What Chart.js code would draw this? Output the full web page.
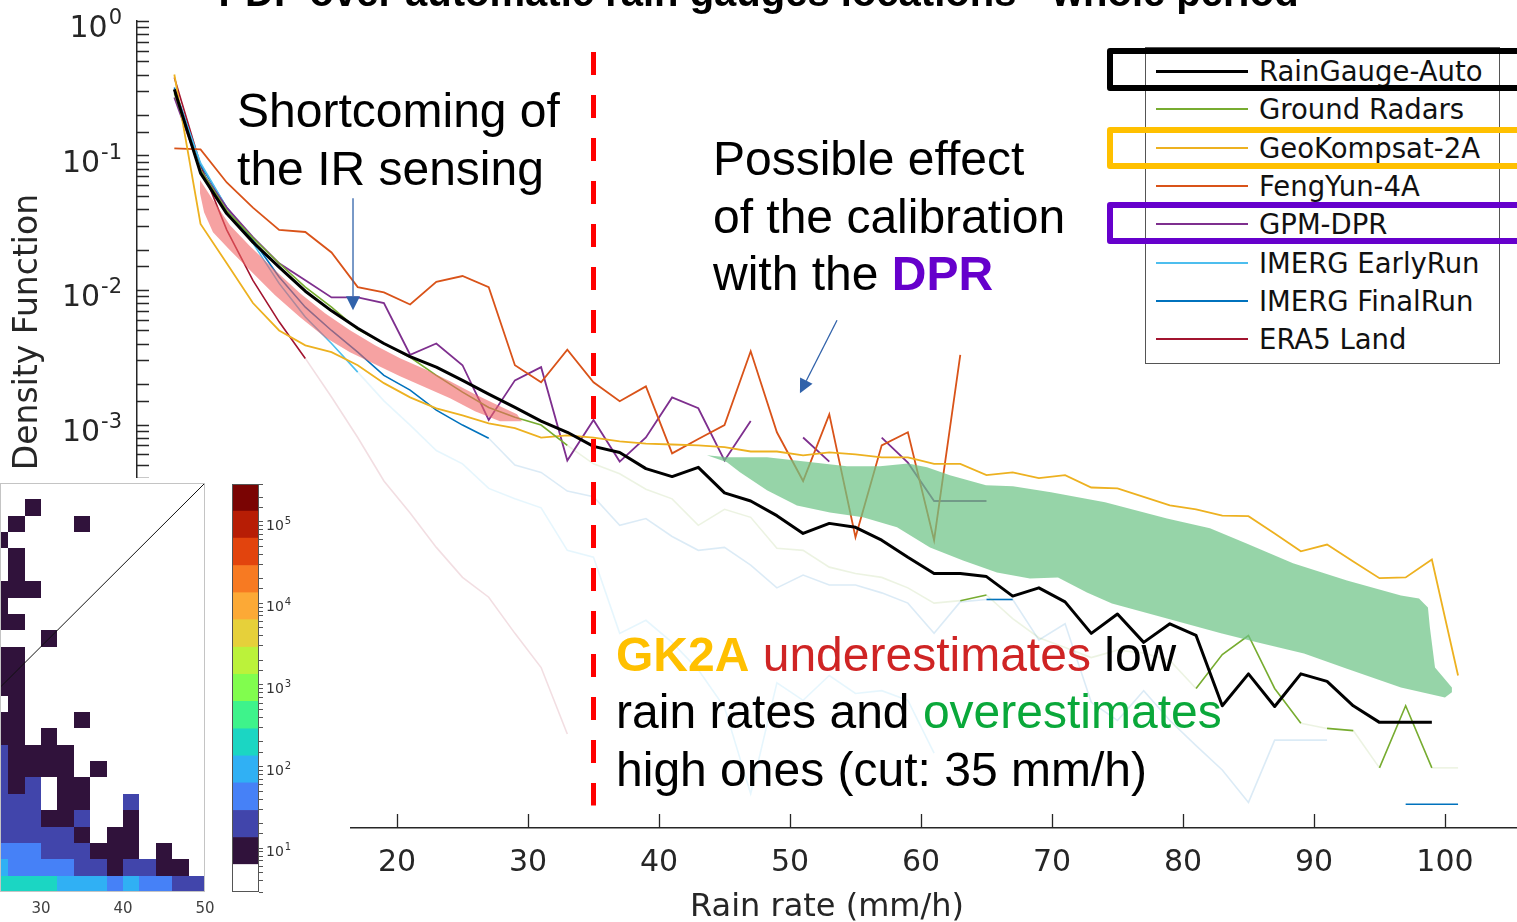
<!DOCTYPE html>
<html lang="en">
<head>
<meta charset="utf-8">
<title>PDF over automatic rain gauges locations - whole period</title>
<script src="https://cdn.jsdelivr.net/npm/chart.js@4.4.1/dist/chart.umd.min.js"></script>
<style>
  html, body { margin: 0; padding: 0; background: #fff; }
  body { position: relative; width: 1517px; height: 922px; overflow: hidden; }
  #pdfChart { position: absolute; left: 0; top: -29px; }
  #legend {
    position: absolute; left: 1145px; top: 47px; width: 355px; height: 317px;
    box-sizing: border-box; margin: 0; padding: 4px 0 0 0; list-style: none;
    background: #fff; border: 1.5px solid #555;
    font: 27.5px "DejaVu Sans", sans-serif; color: #111;
  }
  #legend li { display: flex; align-items: center; height: 38.33px; white-space: nowrap; }
  #legend .swatch { display: inline-block; width: 92px; margin: 0 11px 0 10px; }
  .frame { position: absolute; left: 1107px; width: 480px; box-sizing: border-box; border: 6px solid; border-radius: 3px; }
  #inset { position: absolute; left: 0; top: 478px; width: 350px; height: 444px; background: #fff; overflow: hidden; }
  #heatChart { position: absolute; left: 0; top: 0; }
  #cbarChart { position: absolute; left: 225px; top: -6px; }
</style>
</head>
<body>
<canvas id="pdfChart" width="1517" height="956"></canvas>
<ul id="legend"></ul>
<div class="frame" style="top:48px;height:43px;border-color:#000"></div>
<div class="frame" style="top:127px;height:42px;border-color:#ffc000"></div>
<div class="frame" style="top:202px;height:42px;border-color:#6600cc"></div>
<div id="inset">
  <canvas id="heatChart" width="240" height="444"></canvas>
  <canvas id="cbarChart" width="125" height="450"></canvas>
</div>
<script>
Chart.defaults.font.family = '"DejaVu Sans", sans-serif';
Chart.defaults.color = '#262626';

// rain-rate bin centres (mm/h)
const rainRate = [3, 5, 7, 9, 11, 13, 15, 17, 19, 21, 23, 25, 27, 29, 31, 33, 35, 37, 39, 41,
  43, 45, 47, 49, 51, 53, 55, 57, 59, 61, 63, 65, 67, 69, 71, 73, 75, 77, 79, 81,
  83, 85, 87, 89, 91, 93, 95, 97, 99, 101];

// probability density per product, one value per bin
const gaugeAuto = [0.31, 0.074, 0.037, 0.0227, 0.0148, 0.0098, 0.0070, 0.0052, 0.0040, 0.0032,
  0.00267, 0.00213, 0.00168, 0.00134, 0.00106, 0.000875, 0.000688, 0.00062, 0.00047, 0.00041,
  0.00048, 0.00031, 0.00027, 0.00021, 0.000155, 0.000184, 0.000172, 0.000138, 0.000103, 7.8e-5,
  7.8e-5, 7.4e-5, 5.3e-5, 6.1e-5, 4.8e-5, 2.8e-5, 3.9e-5, 2.4e-5, 3.3e-5, 2.7e-5,
  8.1e-6, 1.4e-5, 8.0e-6, 1.4e-5, 1.23e-5, 8.1e-6, 6.1e-6, 6.1e-6, 6.1e-6];
const groundRadars = [0.29, 0.078, 0.039, 0.0243, 0.0158, 0.0105, 0.00745, 0.0051, 0.0040, 0.00316,
  0.00232, 0.00174, 0.00134, 0.00113, 0.00099, 0.0007, 0.00051, 0.00043, 0.00033, 0.00028,
  0.000178, 0.000234, 0.000204, 0.00012, 0.000116, 8.7e-5, 7.8e-5, 7.3e-5, 6.1e-5, 4.7e-5,
  4.9e-5, 5.4e-5, 3.6e-5, 2.6e-5, 2.2e-5, 1.85e-5, 2.1e-5, 2.0e-5, 1.76e-5, 1.09e-5,
  1.95e-5, 2.7e-5, 1.09e-5, 6.0e-6, 5.5e-6, 5.3e-6, 2.8e-6, 8.1e-6, 2.8e-6, 2.8e-6];
const geoKompsat = [0.40, 0.031, 0.0158, 0.0080, 0.0050, 0.00388, 0.00345, 0.00276, 0.00203, 0.00159,
  0.00132, 0.00117, 0.00102, 0.00094, 0.00080, 0.00083, 0.00080, 0.00075, 0.00072, 0.00071,
  0.00070, 0.00068, 0.00063, 0.00063, 0.00059, 0.00062, 0.00060, 0.00057, 0.00057, 0.00051,
  0.00051, 0.00042, 0.00044, 0.00040, 0.00042, 0.00034, 0.000335, 0.00029, 0.00025, 0.000234,
  0.00021, 0.000208, 0.000155, 0.000114, 0.000128, 9.6e-5, 7.2e-5, 7.3e-5, 9.9e-5, 1.36e-5];
const fengYun = [0.113, 0.111, 0.063, 0.041, 0.028, 0.027, 0.019, 0.0105, 0.0096, 0.0078,
  0.0115, 0.0127, 0.0105, 0.00276, 0.00206, 0.0036, 0.00206, 0.00149, 0.00192, 0.00061,
  0.00078, 0.00099, 0.0035, 0.000875, 0.00038, 0.00119, 0.000145, 0.0007, 0.000875, 0.000138,
  0.0033];
const gpmDpr = [0.27, 0.078, 0.041, 0.0247, 0.0158, 0.0118, 0.0088, 0.0088, 0.0080, 0.0033,
  0.0040, 0.00276, 0.00108, 0.00213, 0.00267, 0.00054, 0.00108, 0.00053, 0.0008, 0.00159,
  0.00132, 0.00054, 0.00106, null, 0.0008, 0.00053, null, 0.0008, 0.00052, 0.00027,
  0.00027, 0.00027];
const imergEarly = [0.31, 0.088, 0.041, 0.0223, 0.0112, 0.0063, 0.0040, 0.00245, 0.0015, 0.00099,
  0.00064, 0.00051, 0.000335, 0.00028, 0.00024, 0.000116, 0.000103, 2.8e-5, 3.5e-5, 2.4e-5,
  1.5e-5, 7.9e-6, 1.8e-6, 1.2e-5, 8.9e-6, 1.36e-5, 1.0e-5, 1.05e-5, 8.9e-6, 3.6e-6];
const imergFinal = [0.32, 0.085, 0.041, 0.0235, 0.0125, 0.00745, 0.0050, 0.00345, 0.00232, 0.0018,
  0.00128, 0.00099, 0.00079, 0.0005, 0.00044, 0.00032, 0.00029, 0.000178, 0.0002, 0.000147,
  0.000116, 0.000122, 9.0e-5, 6.1e-5, 7.6e-5, 6.4e-5, 6.4e-5, 5.6e-5, 4.7e-5, 2.8e-5,
  4.8e-5, 5.0e-5, 5.0e-5, 2.5e-5, 3.3e-5, 8.6e-6, 6.3e-6, 1.05e-5, 6.3e-6, 4.1e-6,
  2.7e-6, 1.55e-6, 4.5e-6, 4.5e-6, 4.5e-6, null, null, 1.5e-6, 1.5e-6, 1.5e-6];
const era5Land = [0.38, 0.085, 0.028, 0.0118, 0.0058, 0.0031, 0.0016, 0.0008, 0.00038, 0.00022,
  0.000122, 7.3e-5, 5.2e-5, 2.8e-5, 1.56e-5, 5.0e-6];

const cutRate = 35; // mm/h threshold

// 2x2 mm/h bins of the scatter density: [x0, y0, count]
const heatBin = 2;
const heatCells = [
  [28, 46, 10],
  [26, 44, 10], [34, 44, 10],
  [24, 42, 10],
  [26, 40, 10],
  [26, 38, 10],
  [24, 36, 10], [26, 36, 10], [28, 36, 10],
  [24, 34, 10],
  [24, 32, 10], [26, 32, 10],
  [30, 30, 10],
  [24, 28, 10], [26, 28, 10],
  [24, 26, 10], [26, 26, 10],
  [24, 24, 10], [26, 24, 10],
  [26, 22, 10],
  [24, 20, 10], [26, 20, 10], [34, 20, 10],
  [24, 18, 10], [26, 18, 10], [30, 18, 10],
  [24, 16, 20], [26, 16, 10], [28, 16, 10], [30, 16, 10], [32, 16, 10],
  [24, 14, 20], [26, 14, 10], [28, 14, 10], [30, 14, 10], [32, 14, 10], [36, 14, 10],
  [24, 12, 20], [26, 12, 10], [28, 12, 20], [32, 12, 10], [34, 12, 10],
  [24, 10, 20], [26, 10, 20], [28, 10, 20], [32, 10, 10], [34, 10, 10], [40, 10, 20],
  [24, 8, 20], [26, 8, 20], [28, 8, 20], [30, 8, 10], [32, 8, 10], [34, 8, 20], [40, 8, 10],
  [24, 6, 20], [26, 6, 20], [28, 6, 20], [30, 6, 20], [32, 6, 20], [34, 6, 10], [38, 6, 10], [40, 6, 10],
  [24, 4, 45], [26, 4, 45], [28, 4, 45], [30, 4, 20], [32, 4, 20], [34, 4, 20], [36, 4, 10], [38, 4, 10], [40, 4, 10], [44, 4, 10],
  [24, 2, 95], [26, 2, 45], [28, 2, 45], [30, 2, 45], [32, 2, 45], [34, 2, 20], [36, 2, 20], [38, 2, 10], [40, 2, 20], [42, 2, 20], [44, 2, 10], [46, 2, 10],
  [24, 0, 200], [26, 0, 200], [28, 0, 200], [30, 0, 200], [32, 0, 95], [34, 0, 95], [36, 0, 95], [38, 0, 45], [40, 0, 95], [42, 0, 45], [44, 0, 45], [46, 0, 20], [48, 0, 20]
];

// colour scale: bin edges (counts) and one colour per bin
const colorEdges = [2.9, 6.3, 13.5, 29, 63, 135, 290, 630, 1350, 2900, 6300, 13500, 29000, 63000, 135000, 290000];
const levelColors = ['#ffffff', '#30123b', '#4145ab', '#4681f7', '#30b0f4', '#1bd6c3', '#3ef38b', '#81fd4e',
  '#bbf23a', '#e6d03a', '#fca936', '#f77a22', '#e2440d', '#b71d05', '#7a0403'];

// highlighted regions, outlines in (mm/h, density)
const irBand = [
  [4.96, 0.06561], [6.11, 0.04423], [7.25, 0.03034], [8.78, 0.02118], [10.69, 0.01404], [12.60, 0.009467],
  [14.50, 0.006722], [16.41, 0.005022], [18.32, 0.003884], [20.23, 0.003109], [22.14, 0.002575],
  [24.05, 0.002096], [25.95, 0.001678], [27.86, 0.001366], [29.16, 0.001191],
  [29.54, 0.001056], [27.86, 0.001056], [25.95, 0.001254], [24.05, 0.001566], [22.14, 0.001891],
  [20.23, 0.002284], [18.32, 0.002805], [16.41, 0.003445], [14.50, 0.004454], [12.60, 0.006274],
  [10.69, 0.009148], [8.78, 0.01404], [7.25, 0.01977], [5.95, 0.02692], [5.27, 0.03793], [4.96, 0.05251]
];
const calibrationBand = [
  [43.66, 5.90e-4], [45.19, 5.70e-4], [48.24, 5.70e-4], [54.35, 4.89e-4], [56.87, 4.89e-4], [59.01, 5.14e-4],
  [60.46, 4.80e-4], [62.21, 4.19e-4], [64.96, 3.53e-4], [67.02, 3.47e-4], [69.92, 3.13e-4], [74.05, 2.64e-4],
  [78.78, 2.00e-4], [82.06, 1.69e-4], [84.81, 1.31e-4], [88.40, 9.28e-5], [92.52, 6.93e-5], [96.64, 5.36e-5],
  [98.02, 5.09e-5], [98.70, 4.36e-5], [98.85, 3.10e-5], [99.24, 1.56e-5], [100.53, 1.11e-5],
  [100.53, 1.02e-5], [100.0, 9.34e-6], [96.64, 1.11e-5], [92.52, 1.53e-5], [89.24, 1.98e-5], [85.65, 2.40e-5],
  [82.90, 2.80e-5], [78.78, 3.61e-5], [74.58, 4.67e-5], [72.67, 5.64e-5], [70.46, 7.30e-5], [68.32, 7.17e-5],
  [65.80, 7.95e-5], [63.21, 9.76e-5], [60.69, 1.22e-4], [58.17, 1.72e-4], [55.57, 2.04e-4], [53.05, 2.22e-4],
  [50.53, 2.50e-4], [48.24, 3.24e-4], [46.18, 4.41e-4], [45.19, 5.23e-4]
];
const bands = [
  { outline: irBand, color: 'rgba(240, 100, 100, 0.6)' },
  { outline: calibrationBand, color: 'rgba(110, 195, 135, 0.72)' }
];

const notes = [
  { at: [7.79, 0.1627], lines: [[{ text: 'Shortcoming of' }], [{ text: 'the IR sensing' }]] },
  { at: [44.12, 0.0715], lines: [
    [{ text: 'Possible effect' }],
    [{ text: 'of the calibration' }],
    [{ text: 'with the ' }, { text: 'DPR', color: '#6600cc', bold: true }]
  ] },
  { at: [36.72, 1.48e-5], lines: [
    [{ text: 'GK2A', color: '#ffc000', bold: true }, { text: ' underestimates', color: '#cf2424' }, { text: ' low' }],
    [{ text: 'rain rates and ' }, { text: 'overestimates', color: '#0aa83a' }],
    [{ text: 'high ones (cut: 35 mm/h)' }]
  ] }
];
const arrows = [
  { from: [16.64, 0.0482], to: [16.64, 0.00708] },
  { from: [53.59, 0.00596], to: [50.76, 0.00171] }
];

function decadeOf(v) {
  const e = Math.round(Math.log10(v));
  return Math.abs(Math.log10(v) - e) < 1e-6 ? e : null;
}

function fade(hex, a) {
  const n = parseInt(hex.slice(1), 16);
  return `rgba(${n >> 16}, ${(n >> 8) & 255}, ${n & 255}, ${a})`;
}

function points(values) {
  return values.map((y, i) => ({ x: rainRate[i], y }));
}

// segments outside the given ranges are drawn washed out
function solidIn(ranges, color) {
  const faint = fade(color, 0.14);
  return {
    borderColor: ctx => ranges.some(([lo, hi]) => ctx.p0.parsed.x >= lo && ctx.p1.parsed.x <= hi) ? undefined : faint
  };
}

function series(label, values, color, width, ranges) {
  const ds = { label, data: points(values), borderColor: color, borderWidth: width, pointRadius: 0, order: 3 };
  if (ranges) ds.segment = solidIn(ranges, color);
  return ds;
}

const datasets = [
  Object.assign(series('RainGauge-Auto', gaugeAuto, '#000000', 3), { order: 2, borderJoinStyle: 'round' }),
  series('Ground Radars', groundRadars, '#77ac30', 1.6, [[3, 33], [63, 65], [81, 89], [91, 93], [95, 99]]),
  series('GeoKompsat-2A', geoKompsat, '#edb120', 1.8),
  series('FengYun-4A', fengYun, '#d95319', 1.8),
  series('GPM-DPR', gpmDpr, '#7e2f8e', 1.8),
  series('IMERG EarlyRun', imergEarly, '#4dbeee', 1.6, [[3, 17]]),
  series('IMERG FinalRun', imergFinal, '#0072bd', 1.6, [[3, 27], [65, 67], [97, 101]]),
  series('ERA5 Land', era5Land, '#a2142f', 1.6, [[3, 13]]),
  {
    data: [{ x: cutRate, y: 0.588 }, { x: cutRate, y: 1.47e-6 }],
    borderColor: '#ff0000', borderWidth: 5, borderDash: [23, 20], pointRadius: 0, order: 1
  }
];

// "10" with a raised exponent at every decade tick of a log axis
function powerLabels(opts) {
  return {
    id: 'powerLabels',
    afterDraw(chart) {
      const { ctx, chartArea: a } = chart;
      const scale = chart.scales.y;
      ctx.save();
      ctx.fillStyle = opts.color;
      ctx.textBaseline = 'alphabetic';
      scale.ticks.forEach(t => {
        const e = decadeOf(t.value);
        if (e === null) return;
        const py = scale.getPixelForValue(t.value) + opts.drop;
        const exp = String(e);
        ctx.font = opts.base + 'px "DejaVu Sans", sans-serif';
        const wBase = ctx.measureText('10').width;
        ctx.font = opts.small + 'px "DejaVu Sans", sans-serif';
        const wExp = ctx.measureText(exp).width;
        const x0 = opts.side === 'left' ? a.left - opts.gap - wBase - wExp : a.right + opts.gap;
        ctx.font = opts.base + 'px "DejaVu Sans", sans-serif';
        ctx.fillText('10', x0, py);
        ctx.font = opts.small + 'px "DejaVu Sans", sans-serif';
        ctx.fillText(exp, x0 + wBase + 1, py - opts.raise);
      });
      ctx.restore();
    }
  };
}

// shaded regions go under the gauge line but over the other products
const bandsPlugin = {
  id: 'bands',
  beforeDatasetDraw(chart, args) {
    if (args.index !== 0) return;
    const { ctx, chartArea: a, scales: { x, y } } = chart;
    ctx.save();
    ctx.beginPath();
    ctx.rect(a.left, a.top, a.width, a.height);
    ctx.clip();
    bands.forEach(b => {
      ctx.beginPath();
      b.outline.forEach(([vx, vy], i) => {
        const px = x.getPixelForValue(vx), py = y.getPixelForValue(vy);
        if (i === 0) ctx.moveTo(px, py); else ctx.lineTo(px, py);
      });
      ctx.closePath();
      ctx.fillStyle = b.color;
      ctx.fill();
    });
    ctx.restore();
  }
};

// tick marks pointing into the plot
const inwardTicks = {
  id: 'inwardTicks',
  afterDraw(chart) {
    const { ctx, chartArea: a, scales: { x, y } } = chart;
    ctx.save();
    ctx.strokeStyle = '#262626';
    ctx.lineWidth = 1.3;
    ctx.beginPath();
    y.ticks.forEach(t => {
      const p = Math.round(y.getPixelForValue(t.value)) + 0.5;
      ctx.moveTo(a.left, p);
      ctx.lineTo(a.left + 12, p);
    });
    x.ticks.forEach(t => {
      const p = Math.round(x.getPixelForValue(t.value)) + 0.5;
      ctx.moveTo(p, a.bottom);
      ctx.lineTo(p, a.bottom - 14);
    });
    ctx.stroke();
    ctx.restore();
  }
};

const notesPlugin = {
  id: 'notes',
  afterDraw(chart) {
    const { ctx, scales: { x, y } } = chart;
    ctx.save();
    ctx.strokeStyle = '#3162aa';
    ctx.fillStyle = '#3162aa';
    ctx.lineWidth = 1.3;
    arrows.forEach(ar => {
      const x0 = x.getPixelForValue(ar.from[0]), y0 = y.getPixelForValue(ar.from[1]);
      const x1 = x.getPixelForValue(ar.to[0]), y1 = y.getPixelForValue(ar.to[1]);
      const ang = Math.atan2(y1 - y0, x1 - x0);
      const bx = x1 - 14 * Math.cos(ang), by = y1 - 14 * Math.sin(ang);
      ctx.beginPath();
      ctx.moveTo(x0, y0);
      ctx.lineTo(bx, by);
      ctx.stroke();
      ctx.beginPath();
      ctx.moveTo(x1, y1);
      ctx.lineTo(bx + 7 * Math.sin(ang), by - 7 * Math.cos(ang));
      ctx.lineTo(bx - 7 * Math.sin(ang), by + 7 * Math.cos(ang));
      ctx.closePath();
      ctx.fill();
    });
    ctx.textBaseline = 'alphabetic';
    ctx.textAlign = 'left';
    notes.forEach(n => {
      const left = x.getPixelForValue(n.at[0]);
      const base = y.getPixelForValue(n.at[1]);
      n.lines.forEach((runs, i) => {
        let cx = left;
        runs.forEach(r => {
          ctx.font = (r.bold ? 'bold ' : '') + '48px "Liberation Sans", Arial, sans-serif';
          ctx.fillStyle = r.color || '#000';
          ctx.fillText(r.text, cx, base + i * 57.5);
          cx += ctx.measureText(r.text).width;
        });
      });
    });
    ctx.restore();
  }
};

const htmlLegend = {
  id: 'htmlLegend',
  afterUpdate(chart) {
    const list = document.getElementById('legend');
    list.innerHTML = '';
    chart.data.datasets.filter(ds => ds.label).forEach(ds => {
      const li = document.createElement('li');
      const swatch = document.createElement('span');
      swatch.className = 'swatch';
      swatch.style.height = (ds.borderWidth > 2 ? 3 : 2) + 'px';
      swatch.style.background = ds.borderColor;
      const label = document.createElement('span');
      label.textContent = ds.label;
      li.append(swatch, label);
      list.appendChild(li);
    });
  }
};

new Chart(document.getElementById('pdfChart'), {
  type: 'line',
  data: { datasets },
  plugins: [bandsPlugin, inwardTicks, notesPlugin, htmlLegend,
    powerLabels({ side: 'left', gap: 16, base: 30, small: 21, raise: 13, drop: 16, color: '#262626' })],
  options: {
    responsive: false,
    animation: false,
    events: [],
    layout: { padding: 0 },
    plugins: {
      legend: { display: false },
      tooltip: { enabled: false },
      title: {
        display: true,
        text: 'PDF over automatic rain gauges locations - whole period',
        color: '#000',
        font: { family: '"Liberation Sans", Arial, sans-serif', size: 40, weight: 'bold' },
        padding: { top: 0, bottom: 2 }
      }
    },
    scales: {
      x: {
        type: 'linear', min: 0.15, max: 105.5,
        grid: { display: false, drawTicks: false },
        border: { color: '#262626', width: 1.5 },
        ticks: { stepSize: 10, includeBounds: false, autoSkip: false, maxRotation: 0, font: { size: 30 }, padding: 17 },
        title: { display: true, text: 'Rain rate (mm/h)', font: { size: 32 }, padding: { top: 0, bottom: 0 } },
        afterFit(scale) { scale.height = 99; }
      },
      y: {
        type: 'logarithmic', min: 1e-6, max: 1,
        grid: { display: false, drawTicks: false },
        border: { color: '#262626', width: 1.5 },
        ticks: { display: false, autoSkip: false },
        title: { display: true, text: 'Probability Density Function', font: { size: 33 }, padding: { top: 9, bottom: 0 } },
        afterFit(scale) { scale.width = 137; }
      }
    }
  }
});

// ---- inset: scatter density of the two products ----
function levelColor(count) {
  for (let i = 0; i < levelColors.length; i++) {
    if (count < colorEdges[i + 1]) return levelColors[i];
  }
  return levelColors[levelColors.length - 1];
}

function boxOutline(color) {
  return {
    id: 'boxOutline',
    afterDraw(chart) {
      const { ctx, chartArea: a } = chart;
      ctx.save();
      ctx.strokeStyle = color;
      ctx.lineWidth = 1;
      ctx.strokeRect(Math.round(a.left) + 0.5, Math.round(a.top) + 0.5, Math.round(a.width) - 1, Math.round(a.height) - 1);
      ctx.restore();
    }
  };
}

const heatCellsPlugin = {
  id: 'heatCells',
  beforeDatasetsDraw(chart) {
    const { ctx, chartArea: a, scales: { x, y } } = chart;
    ctx.save();
    ctx.beginPath();
    ctx.rect(a.left, a.top, a.width, a.height);
    ctx.clip();
    heatCells.forEach(([x0, y0, n]) => {
      const l = Math.round(x.getPixelForValue(x0)), r = Math.round(x.getPixelForValue(x0 + heatBin));
      const t = Math.round(y.getPixelForValue(y0 + heatBin)), b = Math.round(y.getPixelForValue(y0));
      ctx.fillStyle = levelColor(n);
      ctx.fillRect(l, t, r - l, b - t);
    });
    ctx.restore();
  }
};

new Chart(document.getElementById('heatChart'), {
  type: 'scatter',
  data: {
    datasets: [{
      data: [{ x: 0, y: 0 }, { x: 50, y: 50 }],
      showLine: true, borderColor: '#111', borderWidth: 1, pointRadius: 0
    }]
  },
  plugins: [heatCellsPlugin, boxOutline('#c4c4c4')],
  options: {
    responsive: false,
    animation: false,
    events: [],
    layout: { padding: { left: 0, right: 35, top: 5, bottom: 0 } },
    plugins: { legend: { display: false }, tooltip: { enabled: false } },
    scales: {
      x: {
        type: 'linear', min: 25, max: 50,
        grid: { display: false, drawTicks: false },
        border: { display: false },
        ticks: { stepSize: 10, includeBounds: false, maxRotation: 0, font: { size: 15 }, color: '#404040', padding: 8 },
        afterFit(scale) { scale.height = 30; }
      },
      y: { type: 'linear', min: 0, max: 50, display: false }
    }
  }
});

new Chart(document.getElementById('cbarChart'), {
  type: 'bar',
  data: {
    labels: ['count'],
    datasets: levelColors.map((c, i) => ({
      data: [[colorEdges[i], colorEdges[i + 1]]],
      backgroundColor: c,
      borderWidth: 0,
      grouped: false,
      barPercentage: 1,
      categoryPercentage: 1
    }))
  },
  plugins: [boxOutline('#555'),
    powerLabels({ side: 'right', gap: 7, base: 14, small: 10, raise: 6, drop: 8, color: '#333' })],
  options: {
    responsive: false,
    animation: false,
    events: [],
    layout: { padding: { left: 7, right: 0, top: 12, bottom: 30 } },
    plugins: { legend: { display: false }, tooltip: { enabled: false } },
    scales: {
      x: { display: false },
      y: {
        type: 'logarithmic', position: 'right',
        min: colorEdges[0], max: colorEdges[colorEdges.length - 1],
        grid: { drawOnChartArea: false, tickLength: 4, color: '#555' },
        border: { display: false },
        ticks: { display: false, autoSkip: false },
        afterFit(scale) { scale.width = 91; }
      }
    }
  }
});
</script>
</body>
</html>
